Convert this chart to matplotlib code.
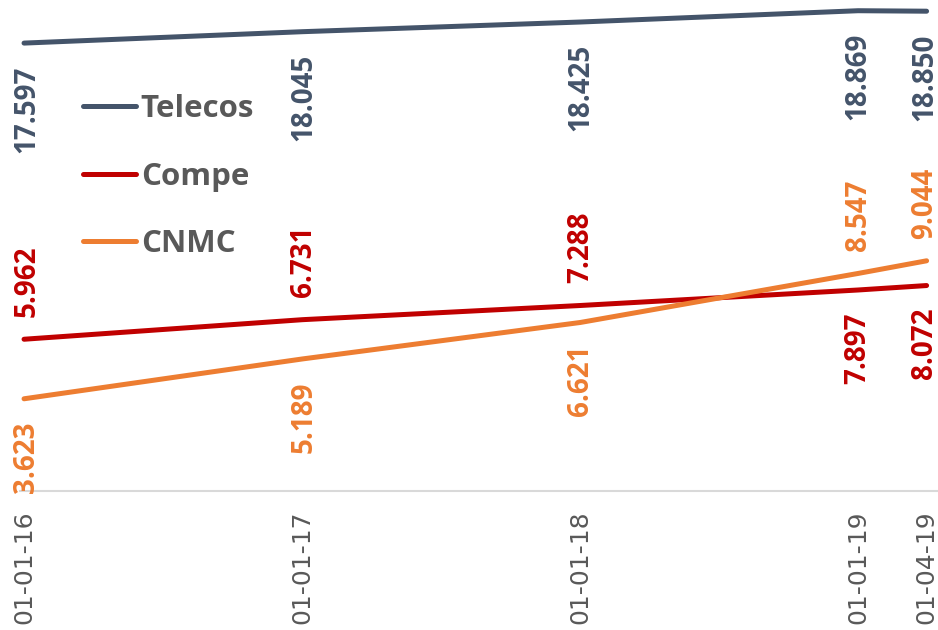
import datetime

import matplotlib as mpl
mpl.use('Agg')
import matplotlib.pyplot as plt
import matplotlib.dates as mdates
from matplotlib.ticker import FixedLocator

# data
fechas = [datetime.date(2016, 1, 1), datetime.date(2017, 1, 1), datetime.date(2018, 1, 1),
          datetime.date(2019, 1, 1), datetime.date(2019, 4, 1)]
telecos = [17.597, 18.045, 18.425, 18.869, 18.850]
compe = [5.962, 6.731, 7.288, 7.897, 8.072]
cnmc = [3.623, 5.189, 6.621, 8.547, 9.044]

# +1 label above the point, -1 below
pos_telecos = [-1, -1, -1, -1, -1]
pos_compe = [1, 1, 1, -1, -1]
pos_cnmc = [-1, -1, -1, 1, 1]
# small horizontal nudge of the labels per date (points)
dx = [2, 1, 0, 0, -1.5]

c_telecos = '#44546A'
c_compe = '#C00000'
c_cnmc = '#ED7D31'
gris = '#595959'

fig = plt.figure(figsize=(9.38, 6.3), dpi=100)
W, H = 938, 630
ax = fig.add_axes([20 / W, 1 - 491 / H, (W - 20) / W, 491 / H])

series = [('Telecos', telecos, c_telecos, pos_telecos),
          ('Compe', compe, c_compe, pos_compe),
          ('CNMC', cnmc, c_cnmc, pos_cnmc)]

for nombre, vals, col, pos in series:
    ax.plot(fechas, vals, color=col, lw=3.6, solid_capstyle='round', label=nombre, clip_on=False)
    for f, v, p, d in zip(fechas, vals, pos, dx):
        txt = f'{v:.3f}'
        ax.annotate(txt, (mdates.date2num(f), v), xytext=(d, 16 * p), textcoords='offset points',
                    rotation=90, ha='center', va='bottom' if p > 0 else 'top',
                    color=col, fontsize=20, fontweight='bold', family='Open Sans',
                    annotation_clip=False)

d0 = mdates.date2num(fechas[0])
ax.set_xlim(d0 - 5.3, d0 + 1201)
ax.set_ylim(0, 19.29)

ax.xaxis.set_major_locator(FixedLocator(mdates.date2num(fechas)))
ax.xaxis.set_major_formatter(mdates.DateFormatter('%d-%m-%y'))
ax.tick_params(axis='x', length=0, pad=14, labelsize=18, labelcolor=gris, labelrotation=90)
for t in ax.get_xticklabels():
    t.set_family('DejaVu Sans')
ax.set_yticks([])
for s in ['top', 'right', 'left']:
    ax.spines[s].set_visible(False)
ax.spines['bottom'].set_color('#D9D9D9')
ax.spines['bottom'].set_linewidth(1.5)

leg = ax.legend(loc='upper left', bbox_to_anchor=(83 / W, 1 - 94 / H), bbox_transform=fig.transFigure,
                frameon=False, borderpad=0, borderaxespad=0, handlelength=1.7, handletextpad=0.15,
                labelspacing=1.2, prop={'family': 'Open Sans', 'weight': 'bold', 'size': 22.5})
for t in leg.get_texts():
    t.set_color(gris)

plt.savefig('out.png', dpi=100)
